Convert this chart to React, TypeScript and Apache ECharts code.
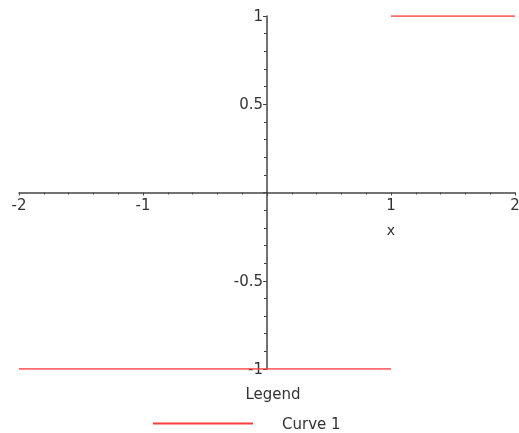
import React, { useEffect, useRef } from "react";
import * as echarts from "echarts";

// Step function: -1 on [-2, 1), 1 on (1, 2]
const lowerX = [-2, 1];
const lowerY = [-1, -1];
const upperX = [1, 2];
const upperY = [1, 1];

const xTicks = [-2, -1, 0, 1, 2];
const yTicks = [-1, -0.5, 0, 0.5, 1];

const seriesName = "Curve 1";
const legendTitle = "Legend";
const xAxisName = "x";

const FONT = "DejaVu Sans";
const TEXT = "#333";
const AXIS = "#444";

export default function App() {
  const ref = useRef<HTMLDivElement>(null);

  useEffect(() => {
    if (!ref.current) return;
    const chart = echarts.init(ref.current, undefined, { renderer: "svg" });

    const data: any[] = [];
    lowerX.forEach((x, i) => data.push([x, lowerY[i]]));
    data.push("-");
    upperX.forEach((x, i) => data.push([x, upperY[i]]));

    const label = {
      fontFamily: FONT,
      fontSize: 15,
      color: TEXT,
      formatter: (v: number) => (v === 0 ? "" : String(v)),
    };

    chart.setOption({
      animation: false,
      grid: {
        left: 19,
        right: 4,
        top: 16,
        bottom: 64,
        containLabel: false,
        outerBoundsMode: "none",
      },
      title: {
        text: legendTitle,
        left: 268,
        top: 381,
        textAlign: "center",
        textStyle: { fontFamily: FONT, fontSize: 15, fontWeight: "normal", color: TEXT },
      },
      legend: {
        left: 148,
        top: 411,
        icon: "rect",
        itemWidth: 100,
        itemHeight: 2,
        data: [seriesName],
        textStyle: { fontFamily: FONT, fontSize: 15, color: TEXT, padding: [0, 0, 0, 24] },
      },
      xAxis: {
        type: "value",
        min: xTicks[0],
        max: xTicks[xTicks.length - 1],
        interval: 1,
        axisLine: { onZero: false, lineStyle: { color: AXIS, width: 1.5 } },
        axisTick: { show: true, inside: false, length: 3, lineStyle: { color: AXIS } },
        minorTick: { show: true, splitNumber: 5, length: 2, lineStyle: { color: AXIS } },
        splitLine: { show: false },
        axisLabel: { ...label, margin: 5, hideOverlap: false },
      },
      yAxis: {
        type: "value",
        min: yTicks[0],
        max: yTicks[yTicks.length - 1],
        interval: 0.5,
        axisLine: { onZero: false, lineStyle: { color: AXIS, width: 1.5 } },
        axisTick: { show: true, inside: false, length: 4, lineStyle: { color: AXIS } },
        minorTick: { show: true, splitNumber: 5, length: 3, lineStyle: { color: AXIS } },
        splitLine: { show: false },
        axisLabel: { ...label, margin: 4, hideOverlap: false },
      },
      series: [
        {
          name: seriesName,
          type: "line",
          data,
          showSymbol: false,
          connectNulls: false,
          color: "#ff3b3b",
          lineStyle: { color: "#ff3b3b", width: 1.5 },
        },
      ],
    });

    // Move both axes so they cross at the origin
    const origin = chart.convertToPixel({ gridIndex: 0 }, [0, 0]) as number[];
    const corner = chart.convertToPixel({ gridIndex: 0 }, [xTicks[0], yTicks[0]]) as number[];
    const xMark = chart.convertToPixel({ gridIndex: 0 }, [1, 0]) as number[];
    chart.setOption({
      xAxis: { offset: -(corner[1] - origin[1]) },
      yAxis: { offset: -(origin[0] - corner[0]) },
      graphic: [
        {
          type: "text",
          x: xMark[0],
          y: xMark[1] + 37,
          style: {
            text: xAxisName,
            fontFamily: FONT,
            fontSize: 14,
            fill: TEXT,
            align: "center",
            verticalAlign: "middle",
          },
        },
      ],
    });

    return () => chart.dispose();
  }, []);

  return (
    <div
      ref={ref}
      style={{ position: "fixed", left: 0, top: 0, width: 519, height: 433 }}
    />
  );
}
